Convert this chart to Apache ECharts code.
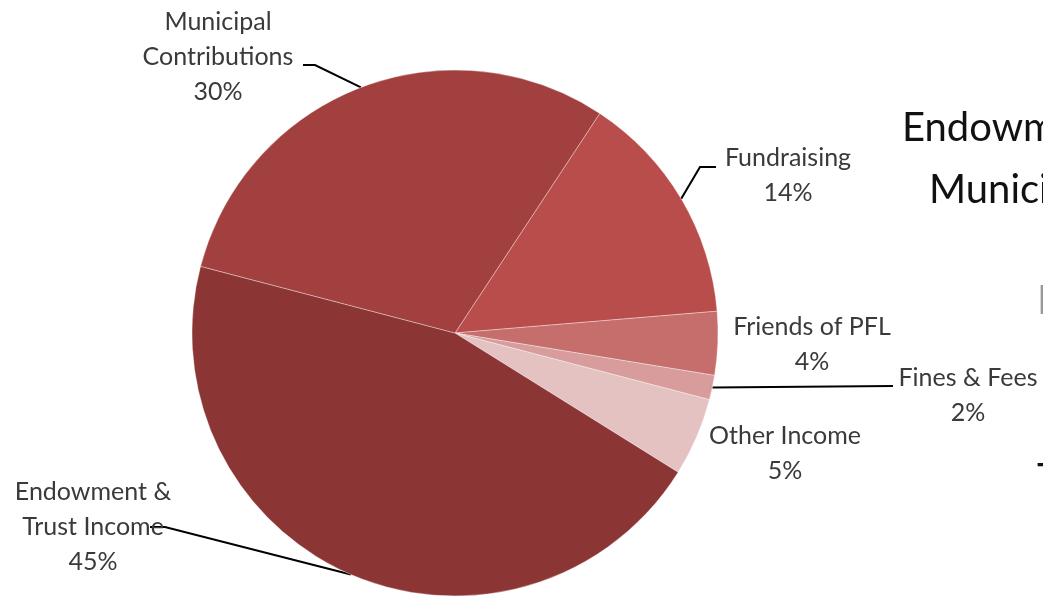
<!DOCTYPE html>
<html>
<head>
<meta charset="utf-8">
<style>
  html, body { margin: 0; padding: 0; background: #fff; }
  #main { width: 1043px; height: 597px; }
</style>
<script src="https://cdn.jsdelivr.net/npm/echarts@6/dist/echarts.min.js"></script>
</head>
<body>
<div id="main"></div>
<script>
// slices, clockwise from the Fundraising edge
var names = ['Fundraising', 'Friends of PFL', 'Fines & Fees', 'Other Income', 'Endowment &\nTrust Income', 'Municipal\nContributions'];
var values = [14.4, 3.9, 1.5, 4.8, 45.2, 30.2];
var colors = ['#b94d4b', '#c66e6c', '#d79c9b', '#e4c2c2', '#8b3535', '#a2403f'];
var showLine = [true, false, true, false, true, true];

// where each label sits, and the bend of its leader line
var labelPos = [
  { x: 788, y: 175, line: [[700, 167], [716, 167]] },
  { x: 812, y: 344 },
  { x: 968, y: 395, line: [[893, 386]] },
  { x: 785, y: 453 },
  { x: 93, y: 527, line: [[165, 527], [150, 527]] },
  { x: 218, y: 57, line: [[315, 65], [303, 65]] }
];

var dom = document.getElementById('main');
var myChart = echarts.init(dom, null, { renderer: 'canvas' });

var font = 'Lato, "Noto Sans", sans-serif';

var option = {
  animation: false,
  series: [
    {
      type: 'pie',
      center: [455, 333],
      radius: 263,
      startAngle: 56.6,
      clockwise: true,
      avoidLabelOverlap: false,
      itemStyle: {
        borderColor: 'rgba(255,255,255,0.35)',
        borderWidth: 1
      },
      label: {
        show: true,
        position: 'outside',
        formatter: function (p) {
          return p.name + '\n' + Math.round(p.percent) + '%';
        },
        fontFamily: font,
        fontSize: 25,
        lineHeight: 35,
        color: '#3a3a3a',
        align: 'center'
      },
      labelLine: {
        show: true,
        lineStyle: { color: '#000', width: 2 }
      },
      labelLayout: function (params) {
        var p = labelPos[params.dataIndex];
        var out = { x: p.x, y: p.y, align: 'center', verticalAlign: 'middle' };
        if (p.line && params.labelLinePoints) {
          out.labelLinePoints = [params.labelLinePoints[0]].concat(p.line);
        }
        return out;
      },
      data: names.map(function (n, i) {
        return {
          name: n,
          value: values[i],
          itemStyle: { color: colors[i] },
          labelLine: { show: showLine[i] }
        };
      })
    }
  ],
  graphic: [
    { type: 'text', left: 902, top: 108, style: { text: 'Endowment & Trust Income', font: '40px ' + font, fill: '#111' } },
    { type: 'text', left: 929, top: 170, style: { text: 'Municipal Contributions', font: '40px ' + font, fill: '#111' } },
    { type: 'text', left: 1037, top: 281, style: { text: 'I', font: '40px ' + font, fill: '#999' } },
    { type: 'text', left: 1037, top: 459, style: { text: 'T', font: '40px ' + font, fill: '#111' } }
  ]
};

myChart.setOption(option);

window.addEventListener('resize', function () {
  myChart.resize();
});
</script>
</body>
</html>
